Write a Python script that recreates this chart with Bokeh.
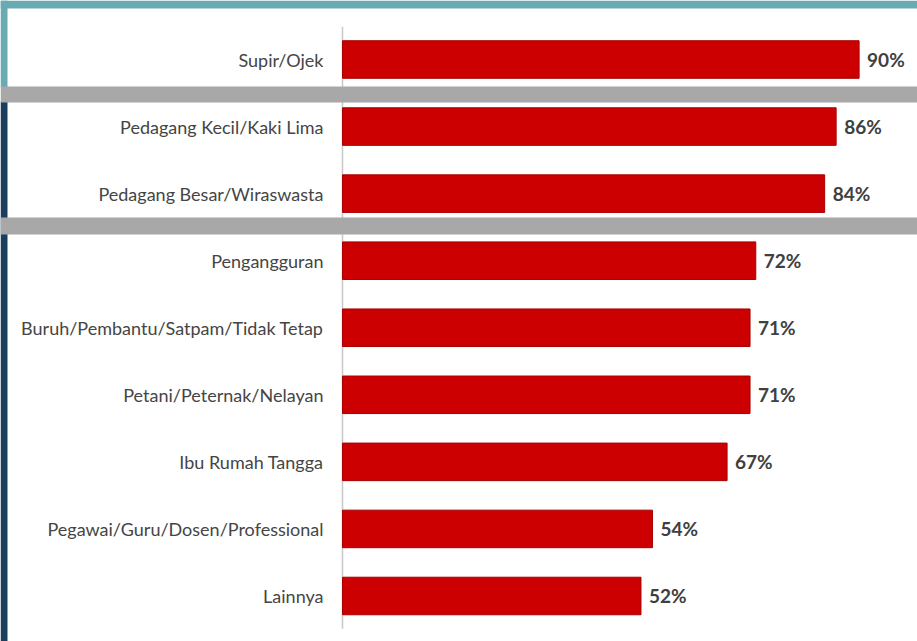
from bokeh.plotting import figure
from bokeh.models import Range1d, ColumnDataSource, BoxAnnotation
from bokeh.core.properties import value
from bokeh.embed import file_html
from bokeh.resources import INLINE

categories = [
    "Supir/Ojek",
    "Pedagang Kecil/Kaki Lima",
    "Pedagang Besar/Wiraswasta",
    "Pengangguran",
    "Buruh/Pembantu/Satpam/Tidak Tetap",
    "Petani/Peternak/Nelayan",
    "Ibu Rumah Tangga",
    "Pegawai/Guru/Dosen/Professional",
    "Lainnya",
]
values = [90, 86, 84, 72, 71, 71, 67, 54, 52]
value_labels = [f"{v}%" for v in values]

W, H = 917, 641
# layout geometry (pixels)
X0_PX = 342.0        # pixel where value 0 sits
PX_PER_UNIT = 5.74   # pixels per percentage point
ROW0_PX = 59.0       # centre of first row from top
ROW_STEP = 67.06     # pixels between rows

x_start = -X0_PX / PX_PER_UNIT
x_end = (W - X0_PX) / PX_PER_UNIT
y_top = -ROW0_PX / ROW_STEP
y_bottom = (H - ROW0_PX) / ROW_STEP


def px_x(px):
    return x_start + px / PX_PER_UNIT


def px_y(py):
    return y_top + py / ROW_STEP


p = figure(width=W, height=H, output_backend="svg", toolbar_location=None,
           x_range=Range1d(x_start, x_end), y_range=Range1d(y_bottom, y_top),
           min_border=0, min_border_left=0, min_border_right=0,
           min_border_top=0, min_border_bottom=0)
p.axis.visible = False
p.grid.visible = False
p.outline_line_color = None
p.background_fill_color = "white"
p.border_fill_color = "white"

rows = list(range(len(categories)))
src = ColumnDataSource(dict(row=rows, cat=categories, val=values, lab=value_labels))

# vertical axis line
p.segment(x0=0, y0=-0.49, x1=0, y1=len(categories) - 0.51,
          line_color="#c8c8c8", line_width=1.5)

# bars
p.hbar(y="row", left=0, right="val", height=0.56, source=src,
       fill_color="#cc0000", line_color="#a80000", line_width=1)

# category labels
p.text(x=px_x(323), y="row", text="cat", source=src,
       text_align="right", text_baseline="middle",
       text_font=value("Lato"), text_font_size="18px",
       text_color="#454545")

# value labels
p.text(x="val", y="row", text="lab", source=src, x_offset=8,
       text_align="left", text_baseline="middle",
       text_font=value("Lato"), text_font_size="19px",
       text_font_style="bold", text_color="#404040")

# decorative frame strips
p.add_layout(BoxAnnotation(left=px_x(0), right=px_x(W), top=px_y(0), bottom=px_y(8),
                           fill_color="#6aaab3", fill_alpha=1, line_color=None, level="overlay"))
p.add_layout(BoxAnnotation(left=px_x(0), right=px_x(7), top=px_y(0), bottom=px_y(87),
                           fill_color="#6aaab3", fill_alpha=1, line_color=None, level="overlay"))
p.add_layout(BoxAnnotation(left=px_x(0), right=px_x(7), top=px_y(101), bottom=px_y(H),
                           fill_color="#1b3e5e", fill_alpha=1, line_color=None, level="overlay"))
# grey bands
p.add_layout(BoxAnnotation(left=px_x(0), right=px_x(W), top=px_y(86), bottom=px_y(102),
                           fill_color="#a8a8a8", fill_alpha=1, line_color=None, level="overlay"))
p.add_layout(BoxAnnotation(left=px_x(0), right=px_x(W), top=px_y(217), bottom=px_y(234),
                           fill_color="#a8a8a8", fill_alpha=1, line_color=None, level="overlay"))

open("out.html", "w").write(file_html(p, INLINE))
